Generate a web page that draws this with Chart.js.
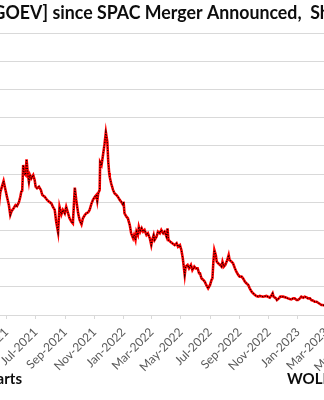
<!DOCTYPE html>
<html>
<head>
<meta charset="utf-8">
<title>GOEV share price</title>
<script src="https://cdn.jsdelivr.net/npm/chart.js@4"></script>
<style>
  html, body { margin: 0; padding: 0; background: #fff; }
  #wrap { position: relative; width: 324px; height: 400px; overflow: hidden; }
  #chart { position: absolute; left: -200px; top: 0; }
</style>
</head>
<body>
<div id="wrap"><canvas id="chart" width="604" height="400"></canvas></div>
<script>
// closing share price, $
const dates = [
  '2021-04-15','2021-04-18','2021-04-25','2021-04-29','2021-05-02','2021-05-06','2021-05-09','2021-05-12',
  '2021-05-16','2021-05-20','2021-05-23','2021-05-27','2021-05-30','2021-06-01','2021-06-03','2021-06-05',
  '2021-06-07','2021-06-10','2021-06-12','2021-06-15','2021-06-17','2021-06-19','2021-06-22','2021-06-26',
  '2021-06-29','2021-07-01','2021-07-04','2021-07-08','2021-07-12','2021-07-15','2021-07-20','2021-07-25',
  '2021-07-29','2021-08-03','2021-08-06','2021-08-10','2021-08-13','2021-08-17','2021-08-20','2021-08-24',
  '2021-08-27','2021-08-31','2021-09-03','2021-09-07','2021-09-10','2021-09-14','2021-09-17','2021-09-21',
  '2021-09-24','2021-09-28','2021-10-01','2021-10-05','2021-10-08','2021-10-12','2021-10-15','2021-10-19',
  '2021-10-22','2021-10-26','2021-10-29','2021-11-02','2021-11-05','2021-11-07','2021-11-09','2021-11-12',
  '2021-11-13','2021-11-16','2021-11-19','2021-11-22','2021-11-25','2021-11-28','2021-11-30','2021-12-02',
  '2021-12-03','2021-12-06','2021-12-10','2021-12-13','2021-12-17','2021-12-20','2021-12-24','2021-12-27',
  '2021-12-31','2022-01-01','2022-01-03','2022-01-07','2022-01-10','2022-01-14','2022-01-17','2022-01-21',
  '2022-01-23','2022-01-26','2022-01-28','2022-01-31','2022-02-02','2022-02-05','2022-02-08','2022-02-11',
  '2022-02-14','2022-02-18','2022-02-21','2022-02-25','2022-02-28','2022-03-02','2022-03-05','2022-03-07',
  '2022-03-11','2022-03-14','2022-03-18','2022-03-21','2022-03-25','2022-03-28','2022-04-01','2022-04-03',
  '2022-04-05','2022-04-09','2022-04-13','2022-04-18','2022-04-22','2022-04-25','2022-04-29','2022-05-02',
  '2022-05-05','2022-05-09','2022-05-11','2022-05-15','2022-05-18','2022-05-22','2022-05-25','2022-05-29',
  '2022-06-01','2022-06-05','2022-06-08','2022-06-10','2022-06-13','2022-06-17','2022-06-20','2022-06-23',
  '2022-06-27','2022-07-01','2022-07-04','2022-07-06','2022-07-08','2022-07-10','2022-07-13','2022-07-15',
  '2022-07-18','2022-07-22','2022-07-25','2022-07-27','2022-07-30','2022-08-02','2022-08-06','2022-08-09',
  '2022-08-11','2022-08-15','2022-08-18','2022-08-22','2022-08-25','2022-08-29','2022-09-01','2022-09-05',
  '2022-09-08','2022-09-12','2022-09-15','2022-09-19','2022-09-22','2022-09-26','2022-09-29','2022-10-03',
  '2022-10-06','2022-10-10','2022-10-13','2022-10-20','2022-10-27','2022-11-03','2022-11-07','2022-11-09',
  '2022-11-11','2022-11-16','2022-11-18','2022-11-22','2022-11-25','2022-12-01','2022-12-08','2022-12-11',
  '2022-12-15','2022-12-18','2022-12-22','2022-12-25','2022-12-29','2023-01-01','2023-01-05','2023-01-08',
  '2023-01-12','2023-01-15','2023-01-19','2023-01-22','2023-01-26','2023-01-29','2023-02-02','2023-02-05',
  '2023-02-09','2023-02-12','2023-02-16','2023-02-19','2023-02-22','2023-02-27'
];
const prices = [
  7.70, 8.70, 9.50, 8.87, 8.39, 7.80, 7.09, 7.38,
  7.57, 7.80, 7.73, 7.99, 8.39, 8.74, 8.82, 10.64,
  10.05, 9.93, 11.04, 9.93, 9.45, 9.93, 9.69, 9.93,
  9.57, 9.10, 8.99, 9.10, 8.87, 8.51, 8.39, 8.16,
  8.04, 7.92, 7.68, 7.45, 6.62, 5.86, 7.68, 7.14,
  7.45, 7.21, 7.68, 7.21, 6.86, 6.62, 6.50, 9.03,
  8.16, 7.21, 6.74, 6.43, 6.86, 7.09, 7.21, 7.28,
  7.45, 7.92, 8.16, 8.39, 8.51, 8.09, 8.63, 8.87,
  10.83, 10.64, 11.35, 12.06, 12.96, 12.29, 10.87, 10.05,
  9.81, 9.34, 8.87, 8.63, 8.51, 8.39, 8.16, 8.04,
  7.80, 8.04, 7.21, 6.97, 6.86, 6.38, 5.79, 5.44,
  5.67, 5.32, 5.91, 5.67, 6.26, 5.91, 6.15, 5.91,
  6.03, 5.67, 5.79, 5.44, 4.96, 5.32, 5.67, 5.32,
  5.55, 5.91, 5.79, 6.03, 5.79, 5.91, 5.55, 6.15,
  5.32, 5.20, 5.09, 4.96, 5.09, 4.84, 4.96, 4.61,
  4.02, 2.84, 3.43, 3.55, 3.31, 3.55, 3.19, 3.43,
  3.31, 3.31, 2.96, 2.96, 2.60, 2.48, 2.36, 2.13,
  1.89, 2.13, 2.48, 2.60, 3.78, 4.61, 4.26, 3.78,
  3.67, 3.55, 3.43, 3.78, 3.43, 3.55, 3.90, 4.26,
  3.90, 3.78, 3.67, 3.31, 3.07, 2.84, 2.72, 2.72,
  2.60, 2.36, 2.25, 2.13, 1.89, 1.65, 1.54, 1.42,
  1.35, 1.30, 1.35, 1.30, 1.35, 1.23, 1.42, 1.54,
  1.30, 1.18, 1.06, 1.18, 1.30, 1.30, 1.23, 1.18,
  1.13, 1.11, 1.18, 1.18, 1.06, 1.06, 1.18, 1.30,
  1.23, 1.30, 1.25, 1.18, 1.18, 1.06, 1.01, 0.94,
  0.94, 0.87, 0.78, 0.71, 0.71, 0.66
];
const tickMonths = ['2020-09','2020-11','2021-01','2021-03','2021-05','2021-07','2021-09','2021-11',
  '2022-01','2022-03','2022-05','2022-07','2022-09','2022-11','2023-01','2023-03','2023-05'];
const monthNames = ['Jan','Feb','Mar','Apr','May','Jun','Jul','Aug','Sep','Oct','Nov','Dec'];

const titleText = 'Canoo [GOEV] since SPAC Merger Announced,  Share Price';
const sourceText = 'Data: YCharts';
const brandText = 'WOLFSTREET.com';

const SHIFT = 200; // canvas sits 200px left of the window

const toDay = s => Date.UTC(+s.slice(0, 4), +s.slice(5, 7) - 1, +s.slice(8, 10)) / 864e5;
const points = dates.map((d, i) => ({ x: toDay(d), y: prices[i] }));

// title + footer text, drawn at fixed spots
const textPlugin = {
  id: 'texts',
  afterDraw(chart) {
    const ctx = chart.ctx;
    ctx.save();
    ctx.fillStyle = '#0d0d0d';
    ctx.textBaseline = 'alphabetic';
    ctx.font = 'bold 18px Lato';
    const lead = ctx.measureText('Canoo [').width;
    const part = ctx.measureText('GOEV] since SPAC Merger Announced,').width;
    ctx.translate(SHIFT - 7, 19);
    ctx.scale(309 / part, 1);
    ctx.fillText(titleText, -lead, 0);
    ctx.restore();

    ctx.save();
    ctx.fillStyle = '#0d0d0d';
    ctx.font = 'bold 15px Lato';
    ctx.textAlign = 'right';
    ctx.fillText(sourceText, SHIFT + 22, 384);
    ctx.textAlign = 'left';
    ctx.fillText(brandText, SHIFT + 287, 384);
    ctx.restore();
  }
};

new Chart(document.getElementById('chart'), {
  type: 'line',
  data: {
    datasets: [
      {
        // dark dotted core, drawn on top
        data: points,
        borderColor: '#000000',
        borderWidth: 1.2,
        borderDash: [1, 1.6],
        pointRadius: 0,
        tension: 0,
        order: 0
      },
      {
        data: points,
        borderColor: '#ff0000',
        borderWidth: 2.6,
        pointRadius: 0,
        tension: 0,
        order: 1
      }
    ]
  },
  options: {
    responsive: false,
    animation: false,
    layout: { padding: { top: 33, left: 36, right: 20, bottom: 0 } },
    plugins: { legend: { display: false }, tooltip: { enabled: false } },
    scales: {
      x: {
        type: 'linear',
        min: toDay('2020-08-01'),
        max: toDay('2023-06-30'),
        afterBuildTicks: scale => {
          scale.ticks = tickMonths.map(m => ({ value: toDay(m + '-01') }));
        },
        afterFit: scale => { scale.height = 85; },
        grid: { drawOnChartArea: false, drawTicks: true, tickLength: 4, color: '#d9d9d9' },
        border: { display: true, color: '#d9d9d9' },
        ticks: {
          autoSkip: false,
          maxRotation: 45,
          minRotation: 45,
          padding: 6,
          color: '#595959',
          font: { family: 'Lato', size: 12 },
          callback: v => {
            const d = new Date(v * 864e5);
            return monthNames[d.getUTCMonth()] + '-' + d.getUTCFullYear();
          }
        }
      },
      y: {
        min: 0,
        max: 20,
        afterFit: scale => { scale.width = 40; },
        grid: { color: '#d9d9d9', drawTicks: false },
        border: { display: false },
        ticks: {
          stepSize: 2,
          padding: 6,
          color: '#595959',
          font: { family: 'Lato', size: 11 }
        }
      }
    }
  },
  plugins: [textPlugin]
});
</script>
</body>
</html>
